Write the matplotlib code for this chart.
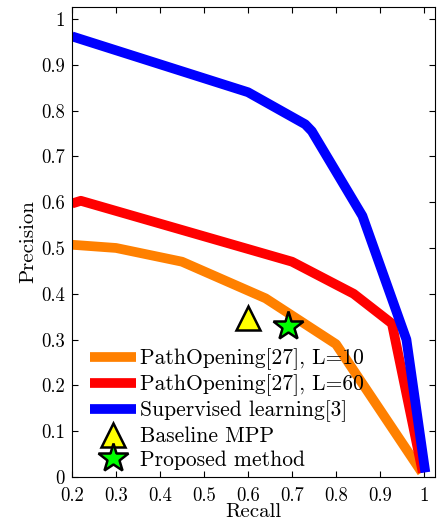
import matplotlib
matplotlib.use("Agg")
import matplotlib.pyplot as plt

plt.rcParams['font.family'] = ['cmr10', 'DejaVu Serif']
plt.rcParams['axes.formatter.use_mathtext'] = True
plt.rcParams['mathtext.fontset'] = 'cm'

# Data
po10_recall = [0.2, 0.3, 0.45, 0.64, 0.8, 0.995]
po10_prec = [0.507, 0.5, 0.47, 0.39, 0.29, 0.01]

po60_recall = [0.2, 0.22, 0.7, 0.84, 0.927, 0.997]
po60_prec = [0.597, 0.603, 0.47, 0.40, 0.335, 0.01]

sup_recall = [0.2, 0.6, 0.73, 0.745, 0.86, 0.96, 1.0, 1.003]
sup_prec = [0.962, 0.84, 0.77, 0.755, 0.57, 0.30, 0.03, 0.01]

baseline_recall = [0.6]
baseline_prec = [0.347]
proposed_recall = [0.69]
proposed_prec = [0.33]

labels = ["PathOpening[27], L=10", "PathOpening[27], L=60",
          "Supervised learning[3]", "Baseline MPP", "Proposed method"]
xticks = [0.2, 0.3, 0.4, 0.5, 0.6, 0.7, 0.8, 0.9, 1.0]
xticklabels = ["0.2", "0.3", "0.4", "0.5", "0.6", "0.7", "0.8", "0.9", "1"]
yticks = [0, 0.1, 0.2, 0.3, 0.4, 0.5, 0.6, 0.7, 0.8, 0.9, 1.0]
yticklabels = ["0", "0.1", "0.2", "0.3", "0.4", "0.5", "0.6", "0.7", "0.8", "0.9", "1"]

fig = plt.figure(figsize=(4.43, 5.21), dpi=100)
ax = fig.add_axes([0.1625, 0.0845, 0.8195, 0.902])

lw = 7
ax.plot(po10_recall, po10_prec, color='#ff8000', lw=lw, label=labels[0],
        solid_joinstyle='round', solid_capstyle='butt')
ax.plot(po60_recall, po60_prec, color='#ff0000', lw=lw, label=labels[1],
        solid_joinstyle='round', solid_capstyle='butt')
ax.plot(sup_recall, sup_prec, color='#0000ff', lw=lw, label=labels[2],
        solid_joinstyle='round', solid_capstyle='butt')
ax.plot(baseline_recall, baseline_prec, linestyle='none', marker='^', markersize=17,
        markerfacecolor='#ffff00', markeredgecolor='black', markeredgewidth=1.8, label=labels[3])
ax.plot(proposed_recall, proposed_prec, linestyle='none', marker='*', markersize=22,
        markerfacecolor='#00ff00', markeredgecolor='black', markeredgewidth=1.8, label=labels[4])

ax.set_xlim(0.2, 1.025)
ax.set_ylim(0, 1.026)
ax.set_xticks(xticks)
ax.set_xticklabels(xticklabels)
ax.set_yticks(yticks)
ax.set_yticklabels(yticklabels)
ax.tick_params(direction='in', top=True, right=True, length=4, labelsize=13.5, width=0.8)
ax.tick_params(axis='x', pad=7)
ax.tick_params(axis='y', pad=5)
ax.set_xlabel("Recall", fontsize=15, labelpad=-1)
ax.set_ylabel("Precision", fontsize=15, labelpad=3)

leg = ax.legend(loc='lower left', bbox_to_anchor=(0.009, -0.017), frameon=False,
                fontsize=15.5, handlelength=2.1, handletextpad=0.2, labelspacing=0.2,
                borderpad=0.2)

fig.savefig("out.png", dpi=100)
